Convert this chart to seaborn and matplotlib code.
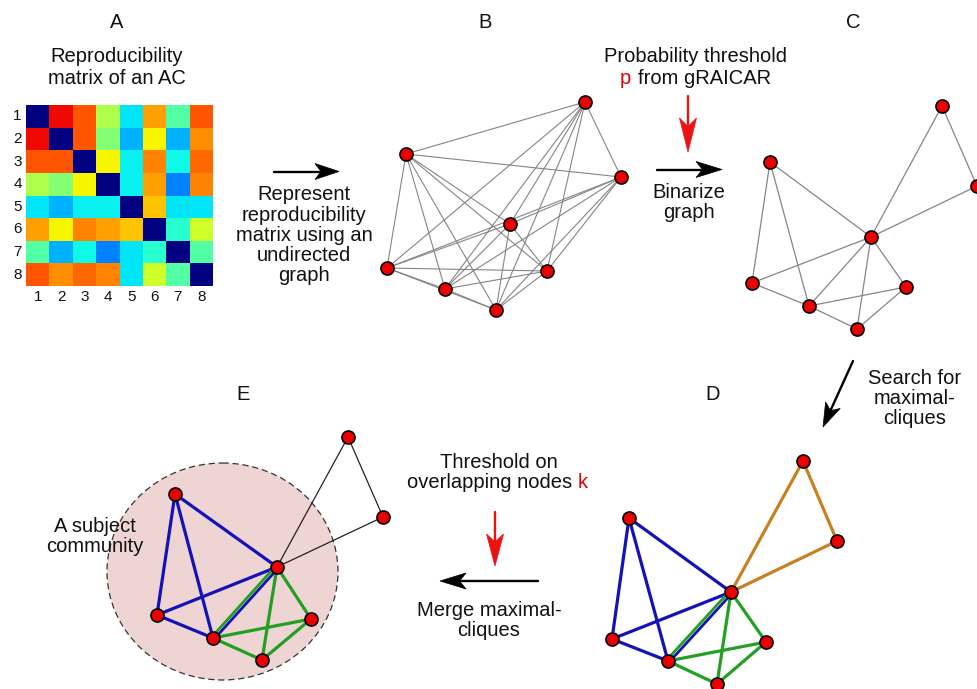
import numpy as np
import pandas as pd
import seaborn as sns
import matplotlib
matplotlib.use("Agg")
import matplotlib.pyplot as plt
from matplotlib.patches import Ellipse, Polygon

sns.set_theme(style="white")
plt.rcParams['font.family'] = ['Liberation Sans', 'DejaVu Sans']

# ---------------- data ----------------
matrix_labels = ["1", "2", "3", "4", "5", "6", "7", "8"]
reproducibility = [
    [0.00, 0.90, 0.82, 0.56, 0.35, 0.74, 0.45, 0.82],
    [0.90, 0.00, 0.82, 0.51, 0.30, 0.65, 0.30, 0.76],
    [0.82, 0.82, 0.00, 0.65, 0.36, 0.77, 0.37, 0.80],
    [0.56, 0.51, 0.65, 0.00, 0.36, 0.74, 0.25, 0.77],
    [0.35, 0.30, 0.36, 0.36, 0.00, 0.70, 0.35, 0.35],
    [0.74, 0.65, 0.77, 0.74, 0.70, 0.00, 0.40, 0.60],
    [0.45, 0.30, 0.37, 0.25, 0.35, 0.40, 0.00, 0.45],
    [0.82, 0.76, 0.80, 0.77, 0.35, 0.60, 0.45, 0.00],
]

# Graph B (full graph) node positions (pixels)
nodes_B_x = [585, 406, 621, 510, 387, 547, 445, 496]
nodes_B_y = [102, 154, 177, 224, 268, 271, 289, 310]

# Graph C (binarized)
nodes_C_x = [942, 770, 977, 871, 752, 906, 809, 857]
nodes_C_y = [106, 162, 186, 237, 283, 287, 306, 329]
edges_C = [(0, 2), (0, 3), (2, 3), (1, 3), (1, 4), (1, 6), (4, 3), (4, 6),
           (6, 3), (7, 3), (5, 3), (6, 5), (6, 7), (7, 5)]

# Graph D (maximal cliques)
nodes_D_x = [803, 629, 837, 731, 612, 766, 668, 717]
nodes_D_y = [461, 518, 541, 592, 639, 642, 661, 684]
# Graph E (merged community)
nodes_E_x = [348, 175, 383, 277, 157, 311, 213, 262]
nodes_E_y = [437, 494, 517, 567, 615, 619, 638, 660]

clique_orange = [(0, 2), (0, 3), (2, 3)]
clique_blue = [(1, 3), (1, 4), (1, 6), (4, 3), (4, 6), (6, 3)]
clique_green = [(6, 3), (3, 7), (3, 5), (6, 5), (6, 7), (7, 5)]

# ---------------- figure ----------------
W, H = 977, 689
fig = plt.figure(figsize=(W / 100, H / 100), dpi=100)
ax = fig.add_axes([0, 0, 1, 1])
ax.set_xlim(0, W)
ax.set_ylim(H, 0)
ax.axis("off")

FS = 14.5
TXT = "#111111"

# Heatmap A
mx0, mx1, my0, my1 = 26, 213, 105, 286
hax = fig.add_axes([mx0 / W, 1 - my1 / H, (mx1 - mx0) / W, (my1 - my0) / H])
df = pd.DataFrame(reproducibility, index=matrix_labels, columns=matrix_labels)
sns.heatmap(df, ax=hax, cmap="jet", vmin=0, vmax=1, cbar=False, square=False,
            linewidths=0)
hax.tick_params(axis="both", length=0, labelsize=11, pad=3, colors=TXT)
hax.set_yticklabels(matrix_labels, rotation=0)
hax.set_xticklabels(matrix_labels, rotation=0)
hax.set_xlabel("")
hax.set_ylabel("")

NODE_S = 88


def draw_nodes(xs, ys):
    sns.scatterplot(x=xs, y=ys, ax=ax, s=NODE_S, color="#ee0000",
                    edgecolor="black", linewidth=1.2, legend=False, zorder=10)


def draw_edges(xs, ys, edges, color, lw, offset=0.0):
    for i, j in edges:
        x0, y0, x1, y1 = xs[i], ys[i], xs[j], ys[j]
        if offset:
            dx, dy = x1 - x0, y1 - y0
            n = np.hypot(dx, dy)
            ox, oy = -dy / n * offset, dx / n * offset
            x0, x1, y0, y1 = x0 + ox, x1 + ox, y0 + oy, y1 + oy
        ax.plot([x0, x1], [y0, y1], color=color, lw=lw, zorder=5,
                solid_capstyle="round")


def draw_arrow(x0, y0, x1, y1, color, head_len, head_w, lw=1.7):
    dx, dy = x1 - x0, y1 - y0
    n = np.hypot(dx, dy)
    ux, uy = dx / n, dy / n
    px, py = -uy, ux
    bx, by = x1 - ux * head_len, y1 - uy * head_len
    nx, ny = x1 - ux * head_len * 0.75, y1 - uy * head_len * 0.75
    ax.plot([x0, nx], [y0, ny], color=color, lw=lw, zorder=6)
    poly = Polygon([[x1, y1],
                    [bx + px * head_w / 2, by + py * head_w / 2],
                    [nx, ny],
                    [bx - px * head_w / 2, by - py * head_w / 2]],
                   closed=True, facecolor=color, edgecolor=color, lw=0.5,
                   zorder=6)
    ax.add_patch(poly)


# ---------- Graph B: complete graph ----------
edges_B = [(i, j) for i in range(8) for j in range(i + 1, 8)]
draw_edges(nodes_B_x, nodes_B_y, edges_B, "#858585", 0.8)
draw_nodes(nodes_B_x, nodes_B_y)

# ---------- Graph C ----------
draw_edges(nodes_C_x, nodes_C_y, edges_C, "#858585", 0.9)
draw_nodes(nodes_C_x, nodes_C_y)

# ---------- Graph D ----------
BLUE = "#1212b8"
GREEN = "#22a022"
ORANGE = "#c88020"
draw_edges(nodes_D_x, nodes_D_y, clique_orange, ORANGE, 2.3)
draw_edges(nodes_D_x, nodes_D_y, [e for e in clique_blue if e != (6, 3)], BLUE, 2.3)
draw_edges(nodes_D_x, nodes_D_y, [(6, 3)], BLUE, 2.0, offset=1.6)
draw_edges(nodes_D_x, nodes_D_y, [e for e in clique_green if e != (6, 3)], GREEN, 2.3)
draw_edges(nodes_D_x, nodes_D_y, [(6, 3)], GREEN, 2.0, offset=-1.6)
draw_nodes(nodes_D_x, nodes_D_y)

# ---------- Graph E ----------
ell = Ellipse((222.5, 571.5), 231, 217, facecolor="#efd4d4", edgecolor="#333333",
              lw=0.9, ls=(0, (5, 3)), zorder=1)
ax.add_patch(ell)
draw_edges(nodes_E_x, nodes_E_y, clique_orange, "#222222", 0.9)
draw_edges(nodes_E_x, nodes_E_y, [e for e in clique_blue if e != (6, 3)], BLUE, 2.3)
draw_edges(nodes_E_x, nodes_E_y, [(6, 3)], BLUE, 2.0, offset=1.6)
draw_edges(nodes_E_x, nodes_E_y, [e for e in clique_green if e != (6, 3)], GREEN, 2.3)
draw_edges(nodes_E_x, nodes_E_y, [(6, 3)], GREEN, 2.0, offset=-1.6)
draw_nodes(nodes_E_x, nodes_E_y)

# ---------- text ----------
def txt(x, y, s, color=TXT, ha="center"):
    ax.text(x, y, s, fontsize=FS, color=color, ha=ha, va="center", zorder=12)


for lab, x, y in [("A", 117, 22), ("B", 485, 22), ("C", 853, 22),
                  ("D", 713, 395), ("E", 243, 395)]:
    txt(x, y, lab)

txt(117, 57, "Reproducibility")
txt(117, 78, "matrix of an AC")

for i, line in enumerate(["Represent", "reproducibility", "matrix using an",
                          "undirected", "graph"]):
    txt(304, 195 + 20.2 * i, line)

txt(696, 57, "Probability threshold")
txt(619.5, 78, "p", color="#e00000", ha="left")
txt(638, 78, "from gRAICAR", ha="left")
txt(689, 193, "Binarize")
txt(689, 213, "graph")

txt(915, 379, "Search for")
txt(915, 399, "maximal-")
txt(915, 418, "cliques")

txt(499, 463, "Threshold on")
txt(407, 483, "overlapping nodes", ha="left")
txt(578, 483, "k", color="#e00000", ha="left")
txt(489, 610, "Merge maximal-")
txt(489, 630, "cliques")

txt(95, 526, "A subject")
txt(95, 546, "community")

# ---------- arrows ----------
draw_arrow(274, 171.5, 339, 171.5, "black", 24, 16)
draw_arrow(657, 169.5, 722, 169.5, "black", 26, 16)
draw_arrow(688, 96, 688, 152, "#ee1111", 34, 17)
draw_arrow(853, 361, 823, 427, "black", 24, 16)
draw_arrow(495, 512, 495, 566, "#ee1111", 32, 17)
draw_arrow(538, 581, 440, 581, "black", 26, 16)

fig.savefig("out.png", dpi=100)
